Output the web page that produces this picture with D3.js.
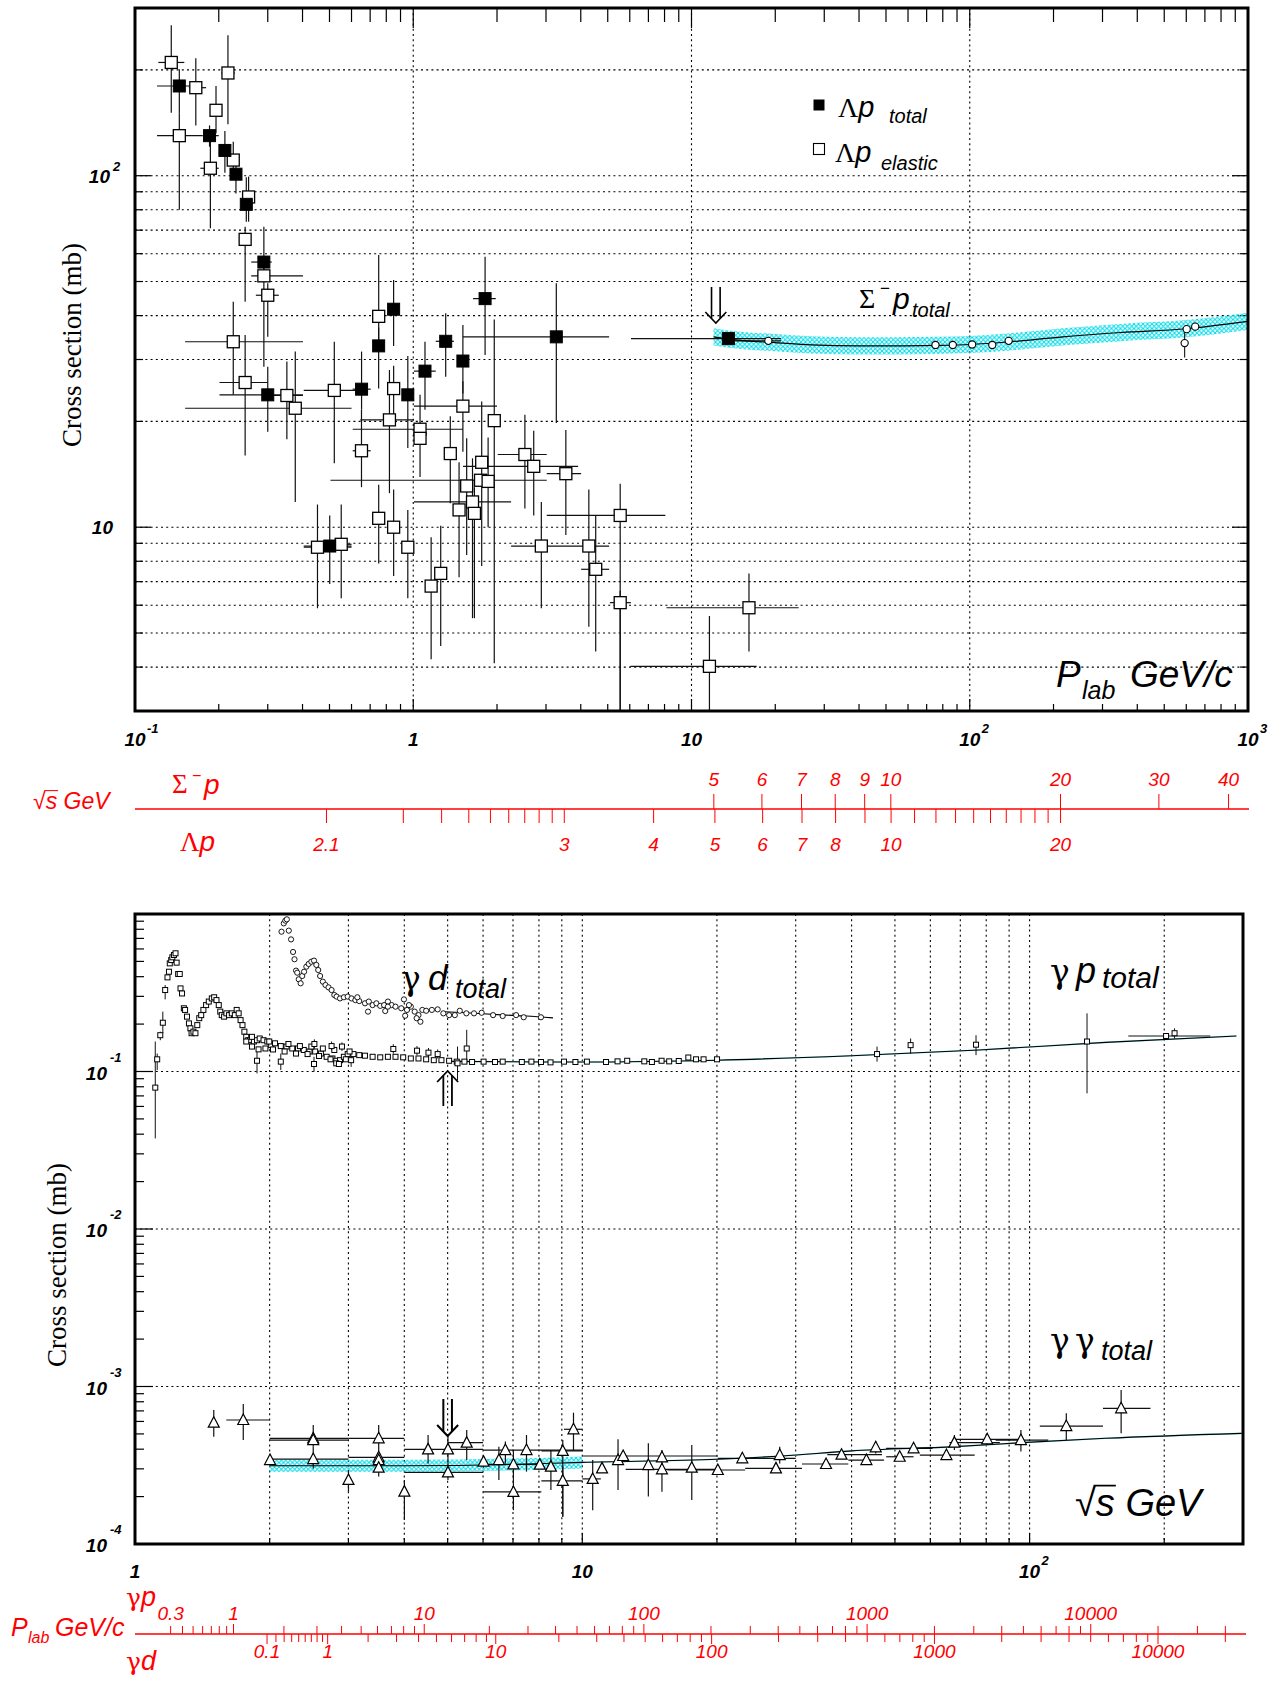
<!DOCTYPE html>
<html><head><meta charset="utf-8">
<script src="https://cdn.jsdelivr.net/npm/d3@7"></script>
<style>body{margin:0;background:#fff}svg{display:block}</style>
</head><body>
<svg id="chart" width="1285" height="1681"></svg>
<script>
// ---------------- DATA ----------------
// rows: [x, y, xlo, xhi, ylo, yhi]
const lambdaPTotal = [
 [0.1443,180,0.120,0.172,150,201],[0.1853,130,0.1745,0.200,121,139],[0.2104,118,0.2044,0.216,102,134],
 [0.2306,101,0.2255,0.236,89,115],[0.2512,82.9,0.245,0.256,74,99],[0.2905,56.8,0.2617,0.310,50.5,71.6],
 [0.300,23.8,0.2012,0.4014,18.7,28.6],[0.501,8.84,0.404,0.600,6.89,10.8],[0.652,24.7,0.6058,0.7031,21.6,31.6],
 [0.751,32.8,null,null,24.8,37],[0.850,41.7,null,null,32.8,50.5],[0.956,23.8,null,null,16.8,30.7],
 [1.102,27.8,1.0056,1.2045,21.6,33.7],[1.308,33.8,1.2045,1.40,26.8,40.6],[1.508,29.7,null,null,24,37.6],
 [1.812,44.7,1.64,1.98,30.9,58.8],[3.267,34.8,1.508,5.057,19.8,49.4],[13.57,34.4,6.06,20.97,null,null]
];
const lambdaPElastic = [
 [0.135,210,0.1213,0.1504,151,268],[0.1654,178,0.1562,0.1801,139,216],[0.2158,196,0.2044,0.2284,140,251],
 [0.1443,130,0.120,0.1745,80,150],[0.1955,153.5,0.1888,0.2044,132,180],[0.1866,105,0.1717,0.200,70.9,132],
 [0.2255,110.8,null,null,100,125],[0.256,87.0,null,null,74,99.4],[0.2488,65.9,null,null,43.8,71.6],
 [0.2905,51.9,0.2617,0.4014,28.6,56],[0.300,45.7,0.2719,0.3287,34.8,49.4],[0.2255,33.7,0.1514,0.4014,23.8,43.8],
 [0.7513,39.8,null,null,34,59.5],[0.2488,25.8,0.2012,0.300,16.0,35.2],[0.3514,23.7,0.300,0.4014,17.8,29.6],
 [0.3767,21.8,0.1514,0.6002,11.8,31.6],[0.5203,24.5,0.404,0.6516,15.2,33.7],[0.8502,24.8,null,null,20,28.8],
 [1.508,22.1,1.0056,2.000,16.4,26],[1.955,20.1,null,null,4.1,39],[0.6516,16.5,0.6058,0.7031,13.0,21.6],
 [0.8212,20.2,0.6454,1.0056,12.5,28.0],[0.7513,10.6,null,null,7.89,13.2],[0.8502,10.0,null,null,7.26,12.8],
 [0.9559,8.77,null,null,6.28,11.2],[0.4527,8.77,0.404,0.600,5.88,11.6],[0.551,8.94,0.52,0.600,6.28,11.6],
 [1.0578,19.0,0.6058,1.508,13.9,23.8],[1.0578,17.9,null,null,null,null],[1.3587,16.2,null,null,11.7,20.7],
 [1.762,15.3,null,null,7.76,22.8],[1.745,13.6,0.504,3.018,null,null],[1.858,13.5,null,null,10,18],
 [1.556,13.1,null,null,8.34,17.9],[1.633,11.8,1.0056,2.247,5.51,15.7],[1.461,11.2,null,null,7.2,15.3],
 [1.659,10.95,null,null,5.51,13.0],[2.519,16.1,2.012,3.018,11.3,20.9],[2.71,14.9,1.51,3.913,10.8,18.8],
 [3.535,14.2,3.018,4.012,9.5,18.9],[5.543,10.8,3.018,8.054,3,13.3],[2.886,8.84,2.247,3.479,5.88,11.8],
 [4.276,8.84,3.479,5.057,5.21,12.8],[4.526,7.59,4.012,5.057,4.43,10.8],[5.543,6.10,5.089,6.056,3,6.6],
 [1.1595,6.80,null,null,4.21,9.36],[1.2552,7.39,null,null,4.59,10.1],[11.6,4.02,6.03,17.14,3,5.59],
 [16.09,5.90,8.13,24.28,4.43,7.39]
];
const sigmaMinusP = [
 [18.89,33.9,14.3,20.97,null,null],[75.3,33.0],[86.9,33.0],[102.0,33.1],[120.5,33.0],[138.0,33.9],
 [602,36.6],[646,37.2],[592,33.4,null,null,30.4,36.6]
];
const sigmaMinusPFit = [[12.0,34.8],[15,34.0],[20,33.5],[27,33.0],[40,32.8],[54,32.8],[75,32.9],[100,33.1],
 [140,33.7],[216,34.8],[350,35.8],[600,36.7],[1000,38.5]];

// bottom panel: x = sqrt(s) GeV, y = cross section (mb)
const gammaP = [
 [1.182,0.396],[1.191,0.430],[1.196,0.486],[1.205,0.510],[1.212,0.531],[1.222,0.549],[1.232,0.563],[1.239,0.491],
 [1.249,0.416],[1.259,0.416],[1.264,0.337],[1.274,0.313],[1.286,0.252],[1.294,0.246],[1.307,0.223],[1.320,0.202],
 [1.330,0.188],[1.338,0.175],[1.351,0.179],[1.365,0.175],[1.378,0.197],[1.392,0.218],[1.406,0.228],[1.422,0.246],
 [1.442,0.264],[1.462,0.278],[1.485,0.291],[1.503,0.296],[1.521,0.284],[1.539,0.264],[1.551,0.240],[1.563,0.228],
 [1.582,0.223],[1.601,0.234],[1.623,0.228],[1.646,0.234],[1.672,0.228],[1.688,0.246],[1.705,0.234],[1.722,0.212],
 [1.739,0.197],[1.756,0.179],[1.773,0.166],[1.791,0.158],[1.808,0.158],[1.844,0.155],[1.874,0.158],[1.900,0.162],
 [1.938,0.158],[1.976,0.155],[2.016,0.147],[2.056,0.151],[2.118,0.145],[2.181,0.144],[2.247,0.140],[2.314,0.140],
 [2.384,0.137],[2.455,0.134],[2.528,0.134],[2.604,0.130],[2.682,0.124],[2.763,0.121],[2.818,0.117],[2.873,0.118],
 [2.931,0.124],[2.989,0.129],[3.078,0.129],[3.172,0.127],[3.267,0.126],[3.398,0.124],[3.534,0.123],[3.676,0.124],
 [3.823,0.124],[3.977,0.123],[4.137,0.121],[4.303,0.121],[4.476,0.1195],[4.656,0.118],[4.843,0.118],[5.038,0.117],
 [5.240,0.1155],[5.451,0.1155],[5.670,0.1149],[6.017,0.1155],[6.381,0.1149],[6.638,0.1155],[7.325,0.1149],
 [7.695,0.1155],[8.084,0.1149],[8.491,0.1143],[9.100,0.1155],[9.652,0.1149],[10.24,0.1155],[11.30,0.1149],
 [11.99,0.116],[12.60,0.117],[13.76,0.116],[14.31,0.1149],[15.04,0.117],[15.64,0.116],[16.43,0.1166],
 [17.26,0.1227],[17.96,0.1195],[18.67,0.1195],[20.01,0.1195],
 [1.773,0.155],[1.826,0.144],[1.889,0.1382],[1.957,0.140],[2.035,0.138],[2.160,0.134],[2.291,0.130],[2.431,0.129],
 [2.579,0.1255],[2.736,0.1195],[2.818,0.1127],[2.857,0.1116],[2.960,0.1195],[1.826,0.166],[1.996,0.155],
 [2.203,0.1495],[2.337,0.145],[2.479,0.144],[2.630,0.140],[2.790,0.137],[3.018,0.134]
];
// [x, y, ylo, yhi]
const gammaPErr = [
 [1.110,0.079,0.0376,0.155],[1.121,0.1195,0.102,0.130],[1.139,0.170,0.158,0.179],[1.154,0.204,0.175,0.240],
 [1.168,0.329,0.287,0.354],[1.874,0.117,0.0973,0.134],[2.118,0.1155,0.1022,0.130],[2.513,0.1116,0.0997,0.124],
 [3.042,0.118,0.107,0.130],[5.516,0.140,0.1127,0.184],[5.261,0.1127,0.0883,0.144],[2.518,0.1495,0.140,0.160],
 [2.751,0.145,0.136,0.155],[2.902,0.144,0.135,0.153],[3.780,0.139,0.130,0.149],[4.270,0.1356,0.127,0.145],
 [4.530,0.1317,0.123,0.141],[4.750,0.129,0.121,0.138],[45.6,0.129,0.1155,0.144],[54.2,0.147,0.130,0.162],
 [75.9,0.148,0.127,0.170],[134.4,0.155,0.0727,0.234],[210.9,0.175,0.162,0.188]
];
// [x, y, xlo, xhi]
const gammaPWide = [[201.9,0.168,166.2,253.5]];
const gammaPFit = [[5,0.116],[7,0.1152],[10,0.1149],[20,0.118],[40,0.126],[77,0.137],[148,0.153],[290,0.168]];

const gammaD = [
 [2.126,0.772],[2.151,0.872],[2.168,0.907],[2.185,0.925],[2.207,0.784],[2.233,0.690],[2.256,0.574],[2.273,0.516],
 [2.291,0.437],[2.305,0.424],[2.323,0.385],[2.346,0.363],[2.365,0.404],[2.388,0.430],[2.416,0.463],[2.445,0.482],
 [2.479,0.498],[2.513,0.506],[2.543,0.475],[2.568,0.441],[2.593,0.404],[2.630,0.372],[2.666,0.354],[2.708,0.342],
 [2.751,0.329],[2.790,0.306],[2.823,0.299],[2.873,0.291],[2.931,0.296],[2.989,0.299],[3.049,0.291],[3.109,0.284],
 [3.172,0.280],[3.267,0.271],[3.332,0.278],[3.398,0.264],[3.465,0.271],[3.534,0.261],[3.605,0.264],[3.676,0.278],
 [3.749,0.264],[3.823,0.258],[3.938,0.252],[3.993,0.287],[4.056,0.246],[4.137,0.258],[4.219,0.240],[4.303,0.228],
 [4.389,0.246],[4.476,0.243],[4.610,0.246],[4.750,0.248],[4.891,0.234],[5.038,0.228],[5.189,0.228],[5.323,0.243],
 [5.506,0.234],[5.727,0.234],[5.957,0.236],[6.318,0.228],[6.638,0.225],[7.113,0.228],[7.397,0.221],[8.084,0.221],
 [3.319,0.240],[3.626,0.242],[4.018,0.226],[4.262,0.218],[4.346,0.207],[3.676,0.258],[4.097,0.264],[3.141,0.296]
];
const gammaDFit = [[4.9,0.240],[5.5,0.236],[6.6,0.229],[7.5,0.225],[8.6,0.219]];

// [x, y, xlo, xhi, ylo, yhi]
const gammaGamma = [
 [1.500,5.89e-4,null,null,4.80e-4,7.09e-4],[1.746,6.13e-4,1.60,2.0,4.57e-4,7.74e-4],[2.004,3.41e-4,null,null,null,null],
 [2.503,4.69e-4,2.0,3.0,4.15e-4,5.69e-4],[2.503,4.57e-4,2.0,3.0,null,null],[2.503,3.46e-4,2.0,3.0,3.02e-4,4.15e-4],
 [3.001,2.55e-4,null,null,2.15e-4,2.95e-4],[3.506,4.69e-4,3.0,4.0,3.86e-4,5.69e-4],[3.506,3.55e-4,3.0,4.0,null,null],
 [3.506,3.41e-4,null,null,null,null],[3.506,3.05e-4,null,null,2.68e-4,3.25e-4],[4.002,2.15e-4,null,null,1.42e-4,2.55e-4],
 [4.521,3.99e-4,null,null,3.25e-4,4.92e-4],[5.008,3.99e-4,4.0,6.0,3.25e-4,4.92e-4],[5.008,2.85e-4,4.0,6.0,2.55e-4,3.25e-4],
 [5.516,4.40e-4,5.0,6.0,3.41e-4,5.29e-4],[6.015,3.33e-4,null,null,3.05e-4,3.62e-4],[6.509,3.41e-4,null,null,2.55e-4,4.15e-4],
 [6.730,3.95e-4,null,null,3.25e-4,4.47e-4],[7.015,3.20e-4,6.0,8.1,2.55e-4,3.95e-4],[7.015,2.14e-4,6.0,8.1,1.64e-4,2.55e-4],
 [7.503,3.95e-4,6.0,10.0,2.88e-4,4.92e-4],[8.035,3.19e-4,null,null,null,null],[8.508,3.10e-4,null,null,2.20e-4,3.95e-4],
 [9.044,3.90e-4,8.1,10.0,1.49e-4,4.57e-4],[9.044,2.52e-4,8.1,10.0,1.49e-4,3.10e-4],[9.557,5.35e-4,9.1,10.0,3.95e-4,6.82e-4],
 [10.55,2.59e-4,10.0,11.0,1.64e-4,3.41e-4],[11.07,3.02e-4,null,null,null,null],[12.02,3.41e-4,null,null,2.20e-4,4.62e-4],
 [12.34,3.62e-4,10.04,20.09,null,null],[14.05,3.17e-4,null,null,2.00e-4,4.36e-4],[15.07,3.55e-4,null,null,3.10e-4,3.95e-4],
 [15.07,2.98e-4,12.5,20.09,2.15e-4,3.25e-4],[17.57,3.05e-4,null,null,1.90e-4,4.25e-4],[20.09,2.95e-4,15.49,23.13,null,null],
 [22.79,3.50e-4,20.09,30.0,null,null],[27.63,3.67e-4,null,null,3.25e-4,4.15e-4],[27.10,3.02e-4,23.13,30.99,null,null],
 [35.07,3.22e-4,30.99,39.33,null,null],[37.98,3.69e-4,35.3,46.77,null,null],[43.17,3.41e-4,39.33,47.28,null,null],
 [45.29,4.11e-4,null,null,3.76e-4,4.47e-4],[51.24,3.58e-4,47.8,55.03,null,null],[55.03,4.05e-4,47.8,60.67,null,null],
 [65.17,3.67e-4,56.84,75.37,null,null],[67.91,4.40e-4,66.17,85.8,3.95e-4,4.92e-4],[80.40,4.62e-4,67.91,95.63,4.25e-4,5.04e-4],
 [95.63,4.57e-4,83.96,110.1,3.86e-4,5.29e-4],[120.8,5.61e-4,105.4,145.9,4.57e-4,6.76e-4],[160.2,7.27e-4,145.9,186.3,5.04e-4,9.5e-4]
];
const gammaGammaFit = [[2,3.14e-4],[4,3.14e-4],[7,3.2e-4],[10,3.3e-4],[20,3.45e-4],[28,3.62e-4],[40,3.9e-4],
 [68,4.15e-4],[96,4.4e-4],[148,4.69e-4],[298,5.04e-4]];

// tick labels
const topXLabels = [[0.1,'10','-1'],[1,'1',''],[10,'10',''],[100,'10','2'],[1000,'10','3']];
const topYLabels = [[10,'10',''],[100,'10','2']];
const sigmaSqrtS = [5,6,7,8,9,10,20,30,40];
const lambdaSqrtSTicks = [2.1,2.2,2.3,2.4,2.5,2.6,2.7,2.8,2.9,3,4,5,6,7,8,9,10,11,12,13,14,15,16,17,18,19,20];
const lambdaSqrtSLabels = [2.1,3,4,5,6,7,8,10,20];
const botXLabels = [[1,'1',''],[10,'10',''],[100,'10','2']];
const botYLabels = [[1e-1,'-1'],[1e-2,'-2'],[1e-3,'-3'],[1e-4,'-4']];
const gpPlabLabels = [0.3,1,10,100,1000,10000];
const gdPlabLabels = [0.1,1,10,100,1000,10000];

// ---------------- DRAWING ----------------
const SANS = '"Liberation Sans", Arial, Helvetica, sans-serif';
const SERIF = '"Liberation Serif", "Times New Roman", serif';
const GREEK = '"DejaVu Serif", "Liberation Serif", serif';
const RED = '#ff0000';
const mP=0.93827, mSig=1.19745, mLam=1.11568, mD=1.87561;
function plabFromSqrtS(w, mb, mt){ const E=(w*w-mb*mb-mt*mt)/(2*mt); return Math.sqrt(E*E-mb*mb); }
function sqrtSFromEgamma(E, mt){ return Math.sqrt(mt*mt+2*mt*E); }

const svg = d3.select('#chart');
svg.append('rect').attr('width',1285).attr('height',1681).attr('fill','#fff');
const defs = svg.append('defs');
defs.append('clipPath').attr('id','clipT').append('rect').attr('x',135).attr('y',8).attr('width',1113).attr('height',703);
defs.append('clipPath').attr('id','clipB').append('rect').attr('x',135).attr('y',914).attr('width',1108).attr('height',630);
const pat = defs.append('pattern').attr('id','hatch').attr('patternUnits','userSpaceOnUse').attr('width',4.5).attr('height',4.5);
pat.append('path').attr('d','M0,0L4.5,4.5M4.5,0L0,4.5').attr('stroke','#00dbe8').attr('stroke-width',1);

function logTicks(lo, hi){ const t=[]; for(let e=Math.floor(Math.log10(lo))-1; e<=Math.ceil(Math.log10(hi)); e++){ for(let m=1;m<10;m++){ const v=m*Math.pow(10,e); if(v>=lo*0.9999 && v<=hi*1.0001) t.push({v, major:m===1}); } } return t; }

function rich(g, x, y, parts, attrs){
  const t = g.append('text').attr('x',x).attr('y',y);
  for (const k in (attrs||{})) t.attr(k, attrs[k]);
  parts.forEach(p=>{
    const s = t.append('tspan').text(p.t);
    if(p.x!=null) s.attr('x',p.x);
    if(p.y!=null) s.attr('y',p.y);
    if(p.dx!=null) s.attr('dx',p.dx);
    if(p.size) s.attr('font-size',p.size);
    if(p.fam) s.attr('font-family',p.fam);
    if(p.st) s.attr('font-style',p.st);
    if(p.w) s.attr('font-weight',p.w);
  });
  return t;
}
function radicalBar(g, textSel, baseline, size, col){
  const n = textSel.node();
  try{
    const x0 = n.getEndPositionOfChar(0).x - size*0.06;
    const x1 = n.getEndPositionOfChar(1).x + 1;
    const y = baseline - size*0.80;
    g.append('line').attr('x1',x0).attr('x2',x1).attr('y1',y).attr('y2',y).attr('stroke',col).attr('stroke-width',Math.max(1,size/22));
  }catch(e){}
}

function errBars(g, data, xs, ys, sw, col){
  data.forEach(d=>{
    const [x,y,xlo,xhi,ylo,yhi]=d;
    if(xlo!=null && xhi!=null) g.append('line').attr('x1',xs(xlo)).attr('x2',xs(xhi)).attr('y1',ys(y)).attr('y2',ys(y)).attr('stroke',col||'#111').attr('stroke-width',sw);
    if(ylo!=null || yhi!=null){
      const a = ylo!=null?ylo:y, b = yhi!=null?yhi:y;
      g.append('line').attr('x1',xs(x)).attr('x2',xs(x)).attr('y1',ys(a)).attr('y2',ys(b)).attr('stroke',col||'#111').attr('stroke-width',sw);
    }
  });
}
function squares(g, data, xs, ys, size, fill, sw){
  g.selectAll(null).data(data).enter().append('rect')
   .attr('x',d=>xs(d[0])-size/2).attr('y',d=>ys(d[1])-size/2).attr('width',size).attr('height',size)
   .attr('fill',fill).attr('stroke','#000').attr('stroke-width',sw);
}
function circles(g, data, xs, ys, r, sw){
  g.selectAll(null).data(data).enter().append('circle')
   .attr('cx',d=>xs(d[0])).attr('cy',d=>ys(d[1])).attr('r',r).attr('fill','#fff').attr('stroke','#000').attr('stroke-width',sw);
}
function triangles(g, data, xs, ys){
  g.selectAll(null).data(data).enter().append('path')
   .attr('d',d=>{const x=xs(d[0]),y=ys(d[1]);return `M${x},${y-6}L${x+5.5},${y+4.5}L${x-5.5},${y+4.5}Z`;})
   .attr('fill','#fff').attr('stroke','#000').attr('stroke-width',1.2);
}
function dblArrow(g, cx, yTip, yTail, sw){
  const dir = yTail > yTip ? 1 : -1;
  const head = 11, hw = 10.5, sx = 4.3;
  const yJoin = yTip + dir*(sx/hw*head);
  g.append('path').attr('d',`M${cx-sx},${yTail}L${cx-sx},${yJoin}M${cx+sx},${yTail}L${cx+sx},${yJoin}`)
   .attr('stroke','#000').attr('stroke-width',sw).attr('fill','none');
  g.append('path').attr('d',`M${cx-hw},${yTip+dir*head}L${cx},${yTip}L${cx+hw},${yTip+dir*head}`)
   .attr('stroke','#000').attr('stroke-width',sw).attr('fill','none').attr('stroke-linejoin','miter');
}

// ======== TOP PANEL ========
const xT = d3.scaleLog().domain([0.1,1000]).range([135,1248]);
const yT = d3.scaleLog().domain([3,300]).range([711,8]);
const gT = svg.append('g');
const grid = gT.append('g').attr('stroke','#000').attr('stroke-width',1.1).attr('stroke-dasharray','2,3.2');
logTicks(3,300).filter(t=>t.v>3.01 && t.v<299).forEach(t=>{
  grid.append('line').attr('x1',135).attr('x2',1248).attr('y1',yT(t.v)).attr('y2',yT(t.v));
});
[1,10,100].forEach(v=>grid.append('line').attr('x1',xT(v)).attr('x2',xT(v)).attr('y1',8).attr('y2',711));

const tk = gT.append('g').attr('stroke','#000').attr('stroke-width',1.2);
logTicks(3,300).forEach(t=>{
  const y=yT(t.v), L=t.major?16:8;
  tk.append('line').attr('x1',135).attr('x2',135+L).attr('y1',y).attr('y2',y);
  tk.append('line').attr('x1',1248).attr('x2',1248-L).attr('y1',y).attr('y2',y);
});
logTicks(0.1,1000).forEach(t=>{
  const x=xT(t.v);
  tk.append('line').attr('x1',x).attr('x2',x).attr('y1',8).attr('y2',8+(t.major?20:14));
  tk.append('line').attr('x1',x).attr('x2',x).attr('y1',711).attr('y2',711-(t.major?12:7));
});

const dT = gT.append('g').attr('clip-path','url(#clipT)');
const bandT = d3.area().x(d=>xT(d[0])).y0(d=>yT(d[1]*0.945)).y1(d=>yT(d[1]*1.058)).curve(d3.curveMonotoneX);
dT.append('path').datum(sigmaMinusPFit).attr('d',bandT).attr('fill','url(#hatch)');
errBars(dT, lambdaPTotal, xT, yT, 1.2);
errBars(dT, lambdaPElastic, xT, yT, 1.2);
errBars(dT, sigmaMinusP, xT, yT, 1.1);
dT.append('path').datum(sigmaMinusPFit).attr('d',d3.line().x(d=>xT(d[0])).y(d=>yT(d[1])).curve(d3.curveMonotoneX))
  .attr('fill','none').attr('stroke','#000').attr('stroke-width',1.2);
squares(dT, lambdaPElastic, xT, yT, 12, '#fff', 1.3);
squares(dT, lambdaPTotal, xT, yT, 12, '#000', 1);
circles(dT, sigmaMinusP, xT, yT, 3.6, 1.1);
gT.append('rect').attr('x',135).attr('y',8).attr('width',1113).attr('height',703).attr('fill','none').attr('stroke','#000').attr('stroke-width',3);

dblArrow(gT, xT(plabFromSqrtS(5,mSig,mP))+2, 323, 287, 1.6);

topXLabels.forEach(([v,b,e])=>{
  gT.append('text').attr('x',xT(v)).attr('y',746).attr('text-anchor','middle').attr('font-family',SANS)
    .attr('font-weight','bold').attr('font-style','italic').attr('font-size',19).text(b);
  if(e) gT.append('text').attr('x',xT(v)+12).attr('y',733).attr('font-family',SANS).attr('font-weight','bold')
    .attr('font-style','italic').attr('font-size',13).text(e);
});
topYLabels.forEach(([v,b,e])=>{
  gT.append('text').attr('x',e?110:113).attr('y',yT(v)+7).attr('text-anchor','end').attr('font-family',SANS)
    .attr('font-weight','bold').attr('font-style','italic').attr('font-size',19).text(b);
  if(e) gT.append('text').attr('x',113).attr('y',yT(v)-5).attr('font-family',SANS).attr('font-weight','bold')
    .attr('font-style','italic').attr('font-size',13).text(e);
});
gT.append('text').attr('transform','translate(81,345) rotate(-90)').attr('text-anchor','middle')
  .attr('font-family',SERIF).attr('font-size',27).text('Cross section (mb)');

gT.append('rect').attr('x',813.5).attr('y',99.5).attr('width',11).attr('height',11).attr('fill','#000');
rich(gT, 838, 117, [{t:'Λ',fam:SERIF,size:28},{t:'p',fam:SANS,st:'italic',size:29},{t:'total',x:889,y:123,fam:SANS,st:'italic',size:20}]);
gT.append('rect').attr('x',813.5).attr('y',143.5).attr('width',11).attr('height',11).attr('fill','#fff').attr('stroke','#000').attr('stroke-width',1.1);
rich(gT, 835, 162, [{t:'Λ',fam:SERIF,size:28},{t:'p',fam:SANS,st:'italic',size:29},{t:'elastic',x:881,y:170,fam:SANS,st:'italic',size:20}]);
rich(gT, 859, 308, [{t:'Σ',fam:SERIF,size:28},{t:'−',x:880,y:294,fam:SANS,size:17},{t:'p',x:893,y:309,fam:SANS,st:'italic',size:30},{t:'total',x:912,y:317,fam:SANS,st:'italic',size:20}]);
rich(gT, 1056, 687, [{t:'P',fam:SANS,st:'italic',size:37},{t:'lab',x:1082,y:699,fam:SANS,st:'italic',size:25},{t:'GeV/c',x:1130,y:687,fam:SANS,st:'italic',size:37}]);

// secondary axis (sqrt s)
const sA = svg.append('g');
sA.append('line').attr('x1',135).attr('x2',1249).attr('y1',809).attr('y2',809).attr('stroke',RED).attr('stroke-width',1.3);
sigmaSqrtS.forEach(w=>{
  const x=xT(plabFromSqrtS(w,mSig,mP));
  sA.append('line').attr('x1',x).attr('x2',x).attr('y1',809).attr('y2',794).attr('stroke',RED).attr('stroke-width',1);
  sA.append('text').attr('x',x).attr('y',786).attr('text-anchor','middle').attr('fill',RED).attr('font-family',SANS)
    .attr('font-style','italic').attr('font-size',19).text(w);
});
lambdaSqrtSTicks.forEach(w=>{
  const x=xT(plabFromSqrtS(w,mLam,mP));
  sA.append('line').attr('x1',x).attr('x2',x).attr('y1',809).attr('y2',823).attr('stroke',RED).attr('stroke-width',1);
});
lambdaSqrtSLabels.forEach(w=>{
  const x=xT(plabFromSqrtS(w,mLam,mP));
  sA.append('text').attr('x',x).attr('y',851).attr('text-anchor','middle').attr('fill',RED).attr('font-family',SANS)
    .attr('font-style','italic').attr('font-size',19).text(w);
});
const rs1 = rich(sA, 33, 809, [{t:'√',fam:SANS,size:23},{t:'s GeV',fam:SANS,st:'italic',size:23}], {fill:RED});
radicalBar(sA, rs1, 809, 23, RED);
rich(sA, 172, 793, [{t:'Σ',fam:SERIF,size:27},{t:'−',x:192,y:781,fam:SANS,size:16},{t:'p',x:204,y:794,fam:SANS,st:'italic',size:28}], {fill:RED});
rich(sA, 180, 851, [{t:'Λ',fam:SERIF,size:27},{t:'p',fam:SANS,st:'italic',size:28}], {fill:RED});

// ======== BOTTOM PANEL ========
const xB = d3.scaleLog().domain([1,300]).range([135,1243]);
const yB = d3.scaleLog().domain([1e-4,1]).range([1544,914]);
const gB = svg.append('g');
const gridB = gB.append('g').attr('stroke','#000').attr('stroke-width',1.1).attr('stroke-dasharray','2,3.2');
[1e-1,1e-2,1e-3].forEach(v=>gridB.append('line').attr('x1',135).attr('x2',1243).attr('y1',yB(v)).attr('y2',yB(v)));
logTicks(1,300).filter(t=>t.v>1.01 && t.v<299).forEach(t=>{
  gridB.append('line').attr('x1',xB(t.v)).attr('x2',xB(t.v)).attr('y1',914).attr('y2',1544);
});
const tkB = gB.append('g').attr('stroke','#000').attr('stroke-width',1.2);
logTicks(1e-4,1).forEach(t=>{
  const y=yB(t.v); tkB.append('line').attr('x1',135).attr('x2',135+(t.major?18:9)).attr('y1',y).attr('y2',y);
});
logTicks(1,300).forEach(t=>{
  const x=xB(t.v); tkB.append('line').attr('x1',x).attr('x2',x).attr('y1',1544).attr('y2',1544-(t.major?11:6));
});

const dB = gB.append('g').attr('clip-path','url(#clipB)');
const lineB = d3.line().x(d=>xB(d[0])).y(d=>yB(d[1])).curve(d3.curveMonotoneX);
const bandB = d3.area().x(d=>xB(d[0])).y0(d=>yB(d[1]*0.915)).y1(d=>yB(d[1]*1.09)).curve(d3.curveMonotoneX);
dB.append('path').datum(gammaGammaFit.filter(d=>d[0]<=10)).attr('d',bandB).attr('fill','url(#hatch)');
[gammaPFit, gammaGammaFit].forEach(f=>{
  dB.append('path').datum(f).attr('d',lineB).attr('fill','none').attr('stroke','#8fe8ee').attr('stroke-width',1.6);
});
errBars(dB, gammaGamma, xB, yB, 1.2);
errBars(dB, gammaPErr.map(d=>[d[0],d[1],null,null,d[2],d[3]]), xB, yB, 1);
errBars(dB, gammaPWide, xB, yB, 1);
[gammaPFit, gammaGammaFit, gammaDFit].forEach(f=>{
  dB.append('path').datum(f).attr('d',lineB).attr('fill','none').attr('stroke','#000').attr('stroke-width',1.1);
});
circles(dB, gammaD, xB, yB, 2.6, 0.9);
squares(dB, gammaP, xB, yB, 5, '#fff', 1);
squares(dB, gammaPErr, xB, yB, 5, '#fff', 1);
squares(dB, gammaPWide, xB, yB, 5, '#fff', 1);
triangles(dB, gammaGamma, xB, yB);
gB.append('rect').attr('x',135).attr('y',914).attr('width',1108).attr('height',630).attr('fill','none').attr('stroke','#000').attr('stroke-width',3);

dblArrow(gB, xB(5), 1071, 1106, 1.8);
dblArrow(gB, xB(5), 1436, 1399, 2);

botXLabels.forEach(([v,b,e])=>{
  gB.append('text').attr('x',xB(v)).attr('y',1578).attr('text-anchor','middle').attr('font-family',SANS)
    .attr('font-weight','bold').attr('font-style','italic').attr('font-size',19).text(b);
  if(e) gB.append('text').attr('x',xB(v)+12).attr('y',1565).attr('font-family',SANS).attr('font-weight','bold')
    .attr('font-style','italic').attr('font-size',13).text(e);
});
botYLabels.forEach(([v,e])=>{
  gB.append('text').attr('x',107).attr('y',yB(v)+8).attr('text-anchor','end').attr('font-family',SANS)
    .attr('font-weight','bold').attr('font-style','italic').attr('font-size',19).text('10');
  gB.append('text').attr('x',110).attr('y',yB(v)-10).attr('font-family',SANS).attr('font-weight','bold')
    .attr('font-style','italic').attr('font-size',13).text(e);
});
gB.append('text').attr('transform','translate(66,1265) rotate(-90)').attr('text-anchor','middle')
  .attr('font-family',SERIF).attr('font-size',27).text('Cross section (mb)');

rich(gB, 401, 990, [{t:'γ',fam:GREEK,size:33},{t:'d',x:428,fam:SANS,st:'italic',size:35},{t:'total',x:455,y:998,fam:SANS,st:'italic',size:27}]);
rich(gB, 1050, 983, [{t:'γ',fam:GREEK,size:33},{t:'p',x:1076,fam:SANS,st:'italic',size:36},{t:'total',x:1102,y:988,fam:SANS,st:'italic',size:30}]);
rich(gB, 1050, 1352, [{t:'γ',fam:GREEK,size:33},{t:'γ',x:1075,fam:GREEK,size:33},{t:'total',x:1101,y:1360,fam:SANS,st:'italic',size:27}]);
const rs2 = rich(gB, 1075, 1516, [{t:'√',fam:SANS,size:38},{t:'s GeV',fam:SANS,st:'italic',size:38}]);
radicalBar(gB, rs2, 1516, 38, '#000');

// secondary axis Plab
const sB = svg.append('g');
sB.append('line').attr('x1',135).attr('x2',1246).attr('y1',1634).attr('y2',1634).attr('stroke',RED).attr('stroke-width',1.3);
logTicks(0.3,40000).forEach(t=>{
  const x=xB(sqrtSFromEgamma(t.v,mP));
  sB.append('line').attr('x1',x).attr('x2',x).attr('y1',1634).attr('y2',1634-(t.major?10:8)).attr('stroke',RED).attr('stroke-width',1);
});
logTicks(0.1,20000).forEach(t=>{
  const x=xB(sqrtSFromEgamma(t.v,mD));
  sB.append('line').attr('x1',x).attr('x2',x).attr('y1',1634).attr('y2',1634+(t.major?10:8)).attr('stroke',RED).attr('stroke-width',1);
});
gpPlabLabels.forEach(v=>{
  sB.append('text').attr('x',xB(sqrtSFromEgamma(v,mP))).attr('y',1620).attr('text-anchor','middle').attr('fill',RED)
    .attr('font-family',SANS).attr('font-style','italic').attr('font-size',19).text(v);
});
gdPlabLabels.forEach(v=>{
  sB.append('text').attr('x',xB(sqrtSFromEgamma(v,mD))).attr('y',1658).attr('text-anchor','middle').attr('fill',RED)
    .attr('font-family',SANS).attr('font-style','italic').attr('font-size',19).text(v);
});
rich(sB, 11, 1636, [{t:'P',fam:SANS,st:'italic',size:25},{t:'lab',x:28,y:1643,fam:SANS,st:'italic',size:16},{t:'GeV/c',x:55,y:1636,fam:SANS,st:'italic',size:25}], {fill:RED});
rich(sB, 126, 1606, [{t:'γ',fam:GREEK,size:25},{t:'p',fam:SANS,st:'italic',size:27}], {fill:RED});
rich(sB, 126, 1670, [{t:'γ',fam:GREEK,size:25},{t:'d',fam:SANS,st:'italic',size:27}], {fill:RED});
</script>
</body></html>
